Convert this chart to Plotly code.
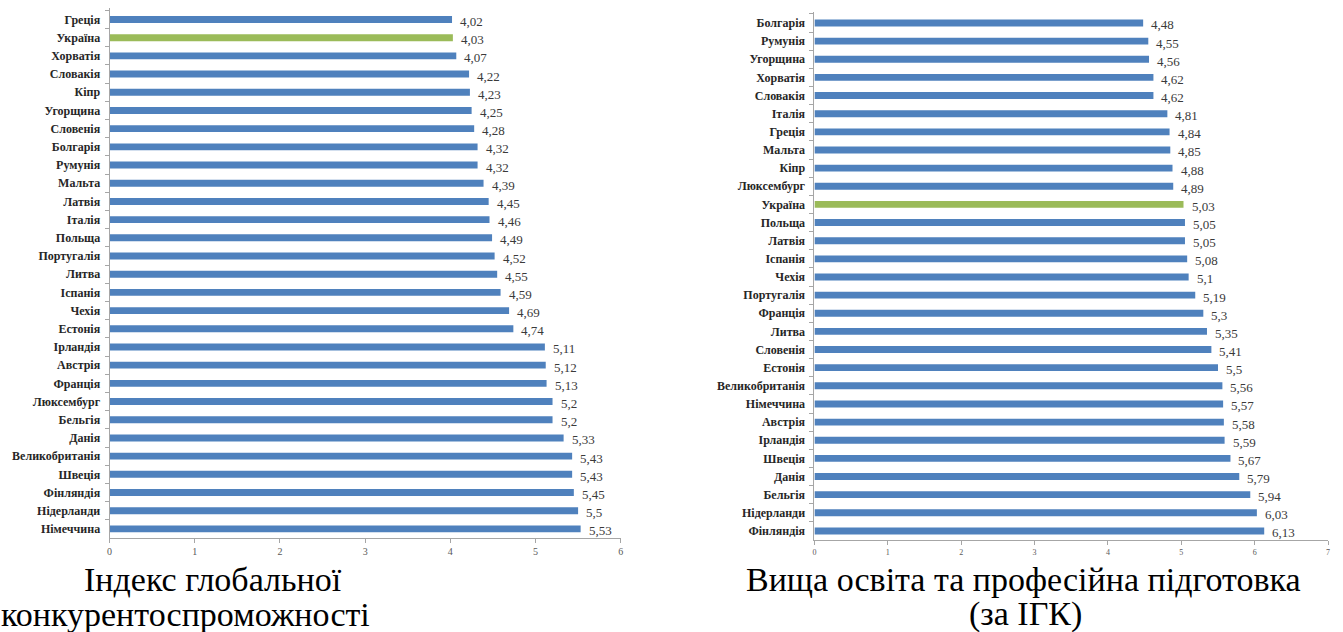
import plotly.graph_objects as go

# ---------------- data ----------------
left_countries = ["Греція", "Україна", "Хорватія", "Словакія", "Кіпр", "Угорщина", "Словенія",
                  "Болгарія", "Румунія", "Мальта", "Латвія", "Італія", "Польща", "Португалія",
                  "Литва", "Іспанія", "Чехія", "Естонія", "Ірландія", "Австрія", "Франція",
                  "Люксембург", "Бельгія", "Данія", "Великобританія", "Швеція", "Фінляндія",
                  "Нідерланди", "Німеччина"]
left_values = [4.02, 4.03, 4.07, 4.22, 4.23, 4.25, 4.28, 4.32, 4.32, 4.39, 4.45, 4.46, 4.49, 4.52,
               4.55, 4.59, 4.69, 4.74, 5.11, 5.12, 5.13, 5.2, 5.2, 5.33, 5.43, 5.43, 5.45, 5.5, 5.53]

right_countries = ["Болгарія", "Румунія", "Угорщина", "Хорватія", "Словакія", "Італія", "Греція",
                   "Мальта", "Кіпр", "Люксембург", "Україна", "Польща", "Латвія", "Іспанія",
                   "Чехія", "Португалія", "Франція", "Литва", "Словенія", "Естонія",
                   "Великобританія", "Німеччина", "Австрія", "Ірландія", "Швеція", "Данія",
                   "Бельгія", "Нідерланди", "Фінляндія"]
right_values = [4.48, 4.55, 4.56, 4.62, 4.62, 4.81, 4.84, 4.85, 4.88, 4.89, 5.03, 5.05, 5.05, 5.08,
                5.1, 5.19, 5.3, 5.35, 5.41, 5.5, 5.56, 5.57, 5.58, 5.59, 5.67, 5.79, 5.94, 6.03, 6.13]

highlight = "Україна"
left_title = ["Індекс глобальної", "конкурентоспроможності"]
right_title = ["Вища освіта та професійна підготовка", "(за ІГК)"]
left_ticks = [0, 1, 2, 3, 4, 5, 6]
right_ticks = [0, 1, 2, 3, 4, 5, 6, 7]

# ---------------- style ----------------
W, H = 1343, 632
BLUE = "#4f81bd"
GREEN = "#9bbb59"
SERIF = "Times New Roman, Liberation Serif, DejaVu Serif, serif"
AXIS_COL = "#a6a6a6"


def fmt(v):
    return f"{v:g}".replace(".", ",")


def colors(cats):
    return [GREEN if c == highlight else BLUE for c in cats]


fig = go.Figure()
fig.add_trace(go.Bar(x=left_values, y=left_countries, orientation="h",
                     marker=dict(color=colors(left_countries), line=dict(width=0)),
                     xaxis="x", yaxis="y", hoverinfo="x+y"))
fig.add_trace(go.Bar(x=right_values, y=right_countries, orientation="h",
                     marker=dict(color=colors(right_countries), line=dict(width=0)),
                     xaxis="x2", yaxis="y2", hoverinfo="x+y"))

annotations = []
for c, v in zip(left_countries, left_values):
    annotations.append(dict(x=v, y=c, xref="x", yref="y", text=fmt(v), showarrow=False,
                            xanchor="left", xshift=6, yshift=-2,
                            font=dict(family=SERIF, size=13, color="#3a3a3a")))
for c, v in zip(right_countries, right_values):
    annotations.append(dict(x=v, y=c, xref="x2", yref="y2", text=fmt(v), showarrow=False,
                            xanchor="left", xshift=6, yshift=-2,
                            font=dict(family=SERIF, size=13, color="#3a3a3a")))

title_font = dict(family=SERIF, size=34, color="#000000")
for txt, xc, yc in [(left_title[0], 212, 579), (left_title[1], 184, 614),
                    (right_title[0], 1025, 579), (right_title[1], 1027, 614)]:
    annotations.append(dict(x=xc / W, y=1 - yc / H, xref="paper", yref="paper", text=txt,
                            showarrow=False, xanchor="center", yanchor="middle", font=title_font))

common_y = dict(type="category", autorange="reversed", showline=True, linecolor=AXIS_COL,
                linewidth=1, ticks="outside", tickson="boundaries", ticklen=4,
                tickcolor=AXIS_COL, showgrid=False, zeroline=False, ticklabelstandoff=6,
                tickfont=dict(family=SERIF, size=12, color="#262626", weight="bold"))

fig.update_layout(
    width=W, height=H,
    margin=dict(l=0, r=0, t=0, b=0),
    paper_bgcolor="white", plot_bgcolor="white",
    font=dict(family=SERIF),
    showlegend=False, bargap=0.62,
    xaxis=dict(domain=[108 / W, 621 / W], range=[0, 6], tickvals=left_ticks, anchor="y",
               showline=True, linecolor=AXIS_COL, ticks="outside", ticklen=4, tickcolor=AXIS_COL,
               showgrid=False, zeroline=False,
               tickfont=dict(family=SERIF, size=10, color="#595959")),
    yaxis=dict(domain=[1 - 538 / H, 1 - 8 / H], anchor="x",
               categoryorder="array", categoryarray=left_countries, **common_y),
    xaxis2=dict(domain=[815.5 / W, 1331 / W], range=[0, 7], tickvals=right_ticks, anchor="y2",
                showline=True, linecolor=AXIS_COL, ticks="outside", ticklen=4, tickcolor=AXIS_COL,
                showgrid=False, zeroline=False,
                tickfont=dict(family=SERIF, size=8, color="#595959")),
    yaxis2=dict(domain=[1 - 540 / H, 1 - 11.5 / H], anchor="x2",
                categoryorder="array", categoryarray=right_countries, **common_y),
    annotations=annotations,
)

fig.write_html("out.html", config={"displayModeBar": False},
               post_script="document.body.style.margin='0';")
